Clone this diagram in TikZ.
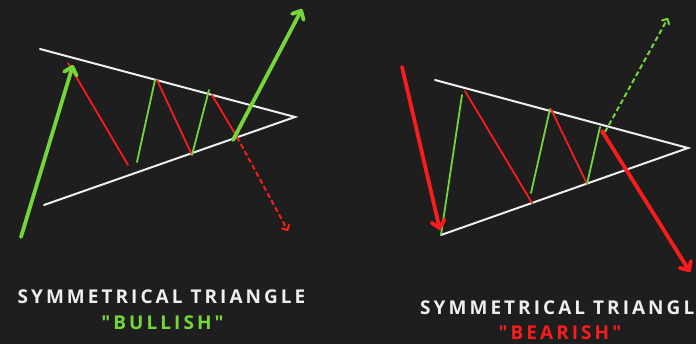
\documentclass[tikz,border=0pt]{standalone}
\usepackage{fontspec}
\usetikzlibrary{arrows.meta}
\newfontfamily\capfont[LetterSpace=16]{Open Sans}
\definecolor{bg}{HTML}{1E1E1E}
\definecolor{bull}{HTML}{74D63A}
\definecolor{bear}{HTML}{F81C1C}
\definecolor{chalk}{HTML}{EEEEEE}
\tikzset{
  bound/.style={draw=chalk, line width=2pt, line cap=round},
  upleg/.style={draw=bull, line width=1.8pt, line cap=round},
  downleg/.style={draw=bear, line width=1.8pt, line cap=round},
  bigup/.style={draw=bull, line width=3.8pt, line cap=round, -{Straight Barb[length=7pt,width=13pt,round]}},
  bigdown/.style={draw=bear, line width=3.8pt, line cap=round, -{Straight Barb[length=7pt,width=13pt,round]}},
  dashup/.style={draw=bull, line width=2pt, dash pattern=on 5pt off 3pt, -{Straight Barb[length=4pt,width=8pt,round]}},
  dashdown/.style={draw=bear, line width=2pt, dash pattern=on 5pt off 3pt, -{Straight Barb[length=4pt,width=8pt,round]}},
  title/.style={text=chalk, font=\capfont\bfseries\fontsize{19}{19}\selectfont, inner sep=0pt},
  tag/.style={font=\capfont\bfseries\fontsize{19}{19}\selectfont, inner sep=0pt}
}
\begin{document}
\begin{tikzpicture}[x=1pt,y=-1pt]
\fill[bg] (0,0) rectangle (696,344);
\useasboundingbox (0,0) rectangle (696,344);
\clip (0,0) rectangle (696,344);
% ---- left: bullish ----
\coordinate (LuA) at (40,49);
\coordinate (LlA) at (44,205);
\coordinate (Lapex) at (295,117);
\coordinate (Ls) at (21,237);
\coordinate (Lp1) at (73,65);
\coordinate (Lr1) at (68,63);
\coordinate (Lt1) at (128,165);
\coordinate (Lt1b) at (137,162);
\coordinate (Lp2) at (155,80);
\coordinate (Lp2b) at (157,80);
\coordinate (Lt2) at (192,155);
\coordinate (Lp3) at (209,90);
\coordinate (Lp3b) at (212,95);
\coordinate (Lt3) at (237,137);
\coordinate (Ldn) at (288,231);
\coordinate (Lb) at (233,140);
\coordinate (Lup) at (302,9);
\draw[bound] (LuA) -- (Lapex) -- (LlA);
\draw[downleg] (Lr1) -- (Lt1);
\draw[upleg] (Lt1b) -- (Lp2);
\draw[downleg] (Lp2b) -- (Lt2);
\draw[upleg] (Lt2) -- (Lp3);
\draw[downleg] (Lp3b) -- (Lt3);
\draw[dashdown] (Lt3) -- (Ldn);
\draw[bigup] (Ls) -- (Lp1);
\draw[bigup] (Lb) -- (Lup);
% ---- right: bearish ----
\coordinate (RuA) at (435,80);
\coordinate (RlA) at (441,235);
\coordinate (Rapex) at (688,148);
\coordinate (Rs) at (402,67);
\coordinate (Rb1) at (440,230);
\coordinate (Rp1) at (462,95);
\coordinate (Rr1) at (465,91);
\coordinate (Rt1) at (532,203);
\coordinate (Rt1b) at (531,193);
\coordinate (Rp2) at (550,109);
\coordinate (Rp2b) at (551,109);
\coordinate (Rt2) at (587,184);
\coordinate (Rp3) at (600,127);
\coordinate (Rp3b) at (605,132);
\coordinate (Rup) at (668,18);
\coordinate (Rd) at (602,131);
\coordinate (Rdn) at (690,272);
\draw[bound] (RuA) -- (Rapex) -- (RlA);
\draw[upleg] (RlA) -- (Rp1);
\draw[downleg] (Rr1) -- (Rt1);
\draw[upleg] (Rt1b) -- (Rp2);
\draw[downleg] (Rp2b) -- (Rt2);
\draw[upleg] (Rt2) -- (Rp3);
\draw[dashup] (Rp3b) -- (Rup);
\draw[bigdown] (Rs) -- (Rb1);
\draw[bigdown] (Rd) -- (Rdn);
% ---- labels ----
\node[title] (lt) at (161.5,297) {SYMMETRICAL TRIANGLE};
\node[tag, text=bull] (lb) at (162.5,323) {"BULLISH"};
\node[title, anchor=west] (rt) at (420,308) {SYMMETRICAL TRIANGLE};
\node[tag, text=bear] (rb) at (560,333) {"BEARISH"};
\end{tikzpicture}
\end{document}
